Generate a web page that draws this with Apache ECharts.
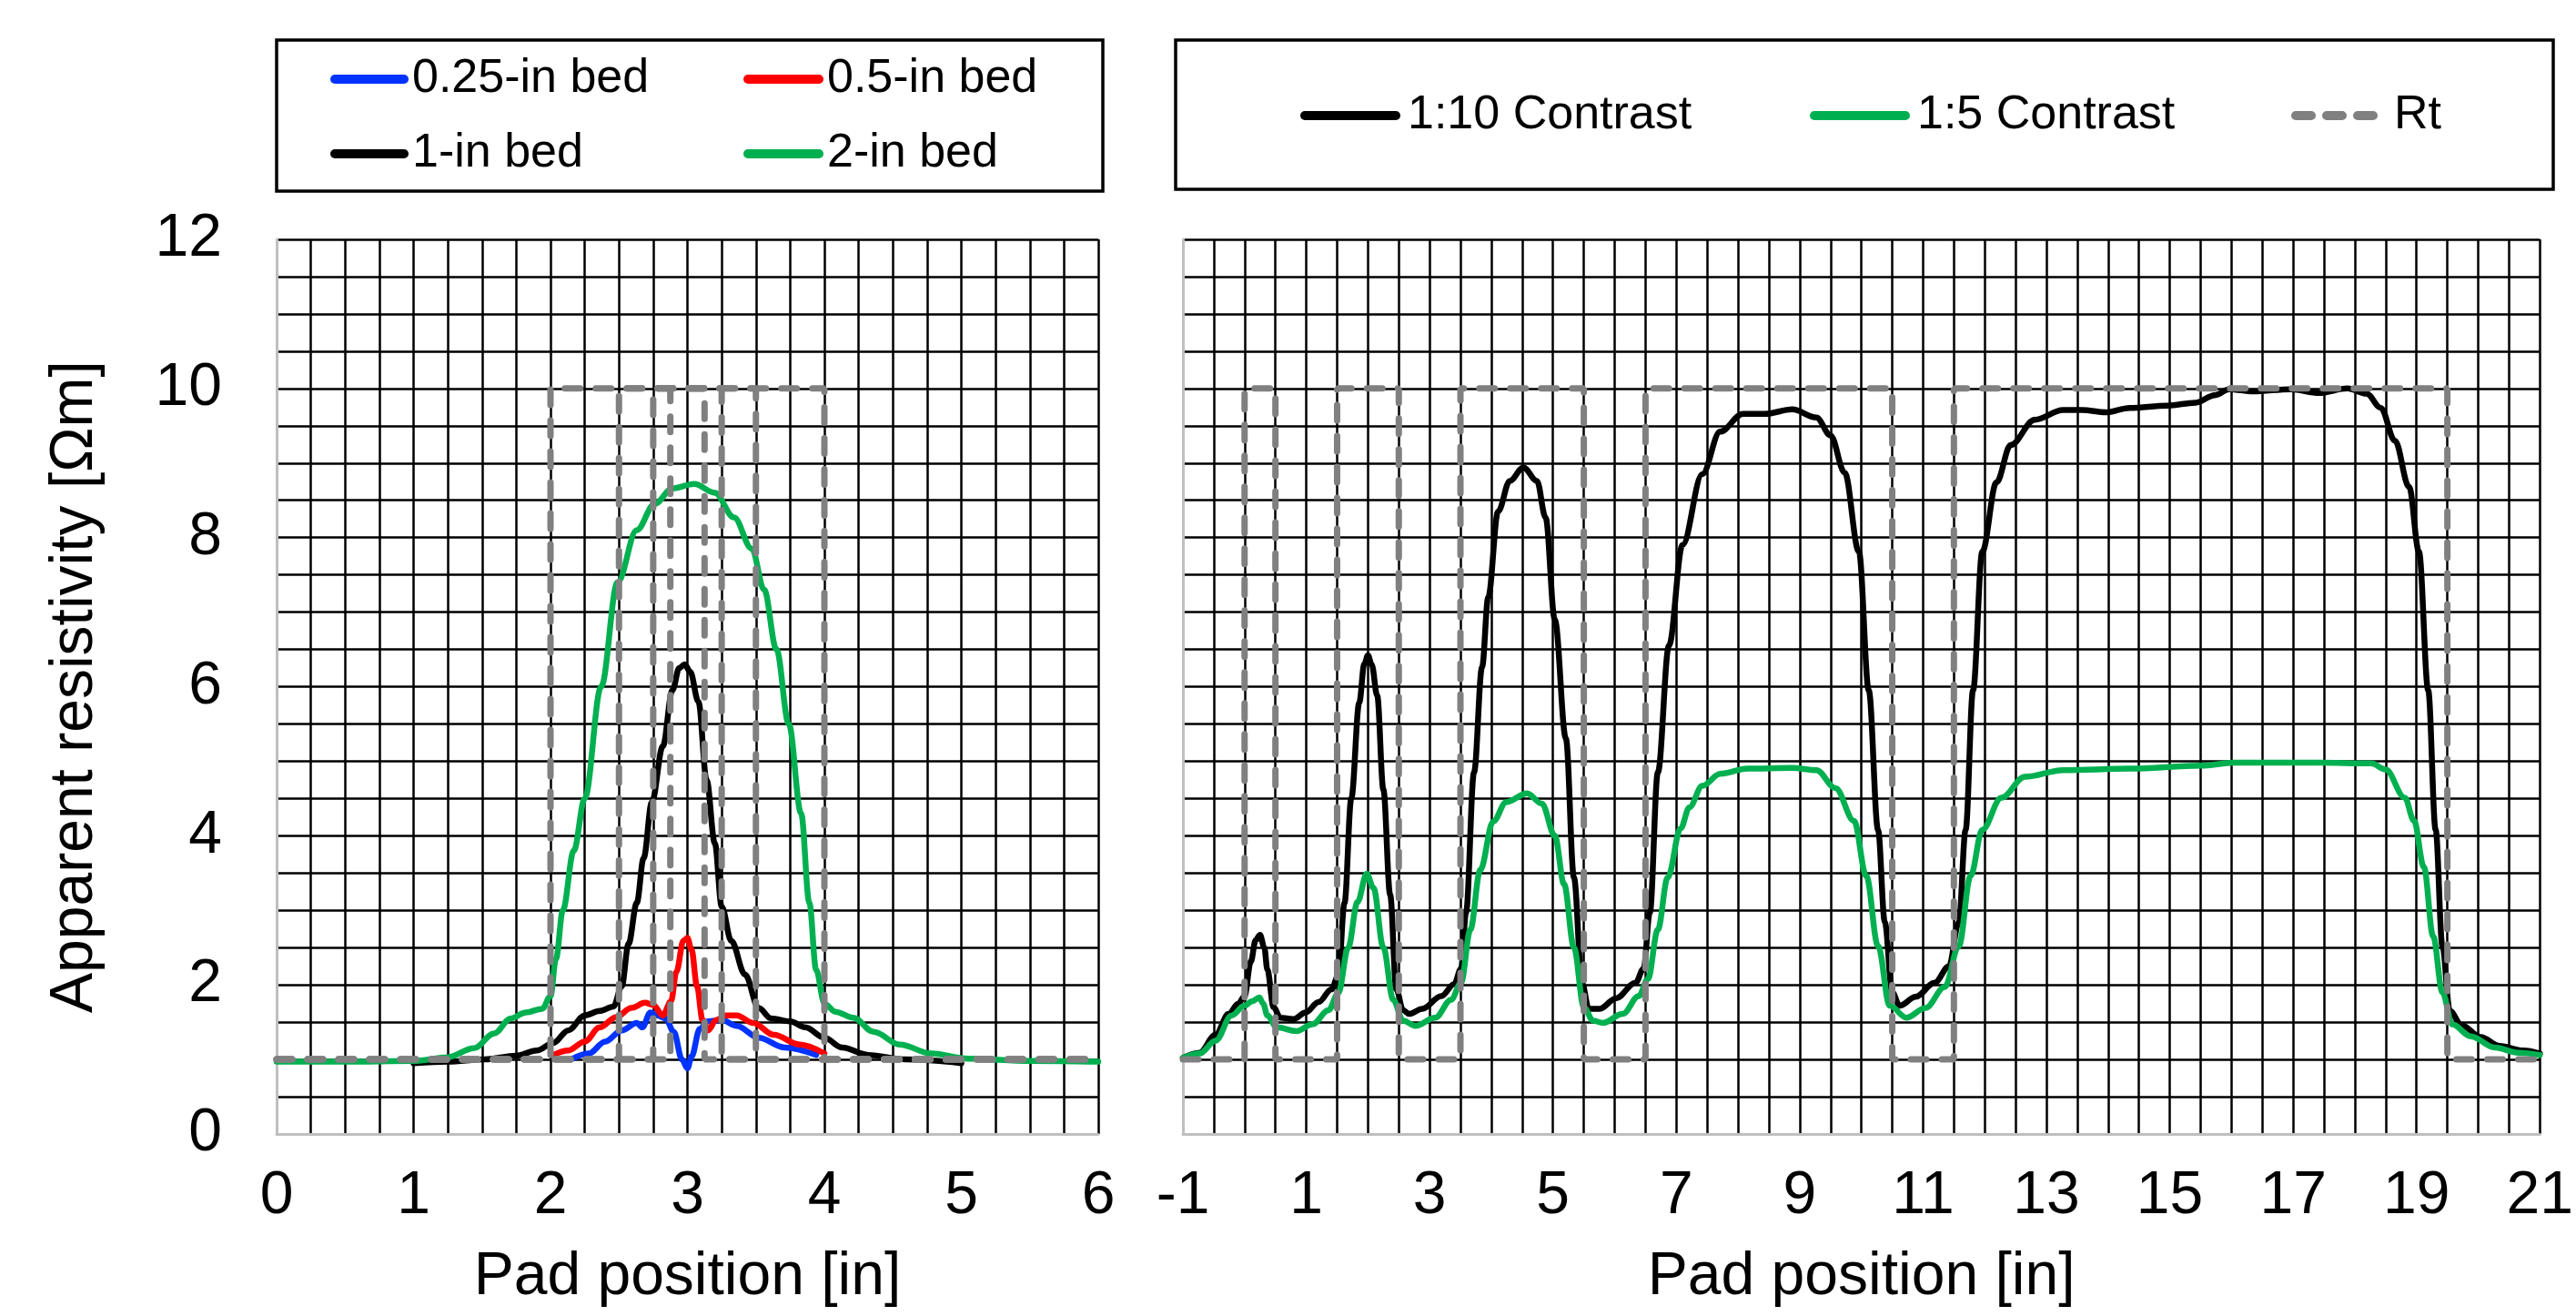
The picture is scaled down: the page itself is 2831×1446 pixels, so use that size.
<!DOCTYPE html>
<html>
<head>
<meta charset="utf-8">
<script src="https://cdn.jsdelivr.net/npm/echarts@6/dist/echarts.min.js"></script>
<style>
html,body{margin:0;padding:0;background:#fff;}
#chart{width:2831px;height:1446px;}
</style>
</head>
<body>
<div id="chart"></div>
<script>
// ---------- Left panel: bed-thickness curves ----------
var bed025X = [2.15,2.28,2.4,2.52,2.63,2.67,2.73,2.78,2.84,2.9,2.96,3.0,3.03,3.09,3.15,3.25,3.36,3.52,3.71,3.94];
var bed025Y = [1.0,1.08,1.24,1.39,1.49,1.43,1.63,1.59,1.55,1.37,1.0,0.88,1.04,1.41,1.51,1.53,1.45,1.29,1.16,1.06];

var bed05X = [2.02,2.13,2.25,2.36,2.48,2.59,2.69,2.75,2.82,2.88,2.92,2.97,3.0,3.03,3.07,3.11,3.15,3.21,3.28,3.36,3.48,3.63,3.82,4.0];
var bed05Y = [1.06,1.12,1.24,1.43,1.57,1.69,1.76,1.73,1.59,1.78,2.18,2.59,2.63,2.47,1.98,1.53,1.39,1.53,1.59,1.59,1.49,1.33,1.2,1.08];

var bed1X = [1.0,1.25,1.52,1.75,1.9,2.02,2.13,2.25,2.36,2.46,2.52,2.57,2.63,2.68,2.74,2.82,2.89,2.94,2.98,3.02,3.08,3.14,3.2,3.25,3.32,3.42,3.52,3.61,3.75,3.86,4.0,4.13,4.32,4.59,5.0];
var bed1Y = [0.95,0.97,1.0,1.05,1.12,1.22,1.39,1.59,1.65,1.71,1.98,2.55,3.1,3.7,4.45,5.2,5.95,6.25,6.3,6.2,5.8,4.75,3.9,3.05,2.59,2.14,1.69,1.55,1.51,1.43,1.29,1.16,1.06,1.0,0.95];

var bed2X = [0,0.5,1.0,1.25,1.44,1.59,1.71,1.82,1.94,2.0,2.04,2.09,2.17,2.25,2.37,2.49,2.63,2.76,2.89,3.05,3.2,3.34,3.47,3.56,3.65,3.74,3.83,3.89,3.94,4.0,4.08,4.21,4.36,4.55,4.78,5.05,5.5,6.0];
var bed2Y = [0.97,0.97,0.98,1.03,1.15,1.35,1.55,1.63,1.68,1.85,2.35,3.0,3.8,4.5,6.0,7.4,8.1,8.45,8.66,8.72,8.6,8.27,7.85,7.3,6.5,5.5,4.3,3.1,2.2,1.75,1.64,1.56,1.37,1.2,1.08,1.01,0.98,0.97];

// True resistivity (Rt) of each single bed in the left panel
var rtBed025X = [0,2.875,2.875,3.125,3.125,6];
var rtBed05X  = [0,2.75,2.75,3.25,3.25,6];
var rtBed1X   = [0,2.5,2.5,3.5,3.5,6];
var rtBed2X   = [0,2.0,2.0,4.0,4.0,6];
var rtBedY    = [1,1,10,10,1,1];

// ---------- Right panel: multi-bed contrast curves ----------
var c10X = [-1,-0.73,-0.47,-0.26,-0.1,0,0.1,0.18,0.25,0.32,0.37,0.47,0.58,0.79,0.99,1.2,1.41,1.52,1.62,1.73,1.86,1.94,2.0,2.06,2.15,2.25,2.36,2.46,2.57,2.67,2.88,3.19,3.4,3.51,3.59,3.72,3.85,3.95,4.11,4.3,4.52,4.74,4.88,5.03,5.21,5.34,5.47,5.58,5.76,6.02,6.34,6.47,6.57,6.7,6.88,7.1,7.42,7.71,8.08,8.44,8.88,9.27,9.5,9.73,9.96,10.12,10.27,10.38,10.5,10.62,10.88,11.19,11.42,11.58,11.69,11.81,11.96,12.19,12.42,12.81,13.27,13.58,13.96,14.35,14.96,15.42,15.73,15.96,16.35,16.96,17.42,17.88,18.19,18.42,18.65,18.88,19.04,19.19,19.31,19.42,19.54,19.73,20.04,20.35,20.73,21];
var c10Y = [1.02,1.09,1.33,1.61,1.75,1.85,2.31,2.6,2.67,2.5,2.2,1.7,1.56,1.54,1.63,1.77,1.94,2.13,3.1,4.5,5.79,6.3,6.42,6.3,5.88,4.62,3.21,1.94,1.66,1.61,1.68,1.85,2.01,2.22,2.97,4.85,6.26,7.2,8.35,8.76,8.94,8.76,8.27,6.9,5.3,3.44,2.03,1.68,1.68,1.82,2.03,2.22,2.97,4.85,6.55,7.9,8.85,9.42,9.66,9.66,9.72,9.61,9.37,8.87,7.81,5.95,4.08,2.84,1.9,1.72,1.84,2.03,2.25,2.84,4.08,5.95,7.81,8.74,9.24,9.58,9.71,9.71,9.68,9.74,9.77,9.81,9.91,9.99,9.96,9.99,9.94,10.0,9.93,9.74,9.3,8.68,7.81,5.95,4.08,2.52,1.65,1.46,1.3,1.18,1.12,1.08];

var c5X = [-1,-0.73,-0.47,-0.21,0,0.12,0.24,0.3,0.37,0.52,0.84,1.1,1.36,1.52,1.68,1.83,1.98,2.09,2.25,2.41,2.57,2.77,3.09,3.35,3.51,3.66,3.82,4.03,4.24,4.58,4.82,5.03,5.18,5.34,5.5,5.65,5.81,6.13,6.39,6.54,6.7,6.86,7.07,7.21,7.42,7.71,8.15,8.88,9.27,9.58,9.88,10.08,10.27,10.46,10.73,11.04,11.35,11.58,11.77,11.96,12.27,12.65,13.27,14.35,15.5,16.04,17.42,18.27,18.5,18.81,18.96,19.12,19.27,19.42,19.58,19.88,20.27,20.65,21];
var c5Y = [1.02,1.08,1.25,1.59,1.72,1.78,1.83,1.75,1.59,1.43,1.38,1.47,1.66,1.89,2.5,3.11,3.49,3.3,2.5,1.8,1.52,1.45,1.56,1.8,2.03,2.74,3.54,4.19,4.45,4.57,4.43,4.0,3.35,2.5,1.7,1.52,1.49,1.61,1.85,2.08,2.74,3.44,4.1,4.38,4.67,4.83,4.9,4.91,4.88,4.64,4.2,3.46,2.52,1.72,1.56,1.69,1.97,2.52,3.46,4.08,4.51,4.79,4.88,4.9,4.94,4.98,4.98,4.97,4.89,4.51,4.2,3.58,2.65,1.9,1.47,1.31,1.16,1.09,1.06];

var rtRightX = [-1,0,0,0.5,0.5,1.5,1.5,2.5,2.5,3.5,3.5,5.5,5.5,6.5,6.5,10.5,10.5,11.5,11.5,19.5,19.5,21];
var rtRightY = [1,1,10,10,1,1,10,10,1,1,10,10,1,1,10,10,1,1,10,10,1,1];

// ---------- Axis ticks / labels ----------
var yTicksLabelled = [0,2,4,6,8,10,12];
var xLeftLabels = [0,1,2,3,4,5,6];
var xRightLabels = [-1,1,3,5,7,9,11,13,15,17,19,21];

var leftNames = ['0.25-in bed','0.5-in bed','1-in bed','2-in bed'];
var rightNames = ['1:10 Contrast','1:5 Contrast','Rt'];

function zip(xs, ys){ return xs.map(function(x,i){ return [x, ys[i]]; }); }

var FONT = 'Liberation Sans, Arial, sans-serif';
var GRID_LINE = {show:true, lineStyle:{color:'#000', width:2.5}};
var AXIS_LINE = {show:true, onZero:false, lineStyle:{color:'#bfbfbf', width:3}};

function curve(name, xs, ys, color, xi){
  return {name:name, type:'line', xAxisIndex:xi, yAxisIndex:xi, data:zip(xs,ys),
    symbol:'none', smooth:0.35, smoothMonotone:'x', clip:true,
    lineStyle:{color:color, width:6.5, cap:'round', join:'round'}, itemStyle:{color:color}, z:3};
}
function rt(name, xs, ys, xi){
  return {name:name, type:'line', xAxisIndex:xi, yAxisIndex:xi, data:zip(xs,ys),
    symbol:'none', clip:false,
    lineStyle:{color:'#808080', width:7, type:[17,17], cap:'round'}, itemStyle:{color:'#808080'}, z:4};
}
function legendItem(name, left, top, w, padLeft){
  return {data:[name], left:left, top:top, orient:'horizontal', padding:0, itemGap:0,
    itemWidth:w, itemHeight:14, selectedMode:false,
    lineStyle:{width:10},
    itemStyle:{opacity:0},
    textStyle:{fontFamily:FONT, fontSize:52, color:'#000', lineHeight:60, padding:[0,0,0,padLeft]}};
}

var option = {
  backgroundColor:'#fff',
  animation:false,
  textStyle:{fontFamily:FONT},
  graphic:[
    {type:'rect', shape:{x:304, y:44, width:908, height:166}, style:{fill:'none', stroke:'#000', lineWidth:3.5}, silent:true},
    {type:'rect', shape:{x:1292, y:44, width:1514, height:164}, style:{fill:'none', stroke:'#000', lineWidth:3.5}, silent:true}
  ],
  legend:[
    legendItem(leftNames[0], 363, 57, 76, 4),
    legendItem(leftNames[1], 817, 57, 78, 4),
    legendItem(leftNames[2], 363, 139, 76, 4),
    legendItem(leftNames[3], 817, 139, 78, 4),
    legendItem(rightNames[0], 1429, 97, 100, 8),
    legendItem(rightNames[1], 1989, 97, 100, 8),
    legendItem(rightNames[2], 2518, 97, 94, 9)
  ],
  grid:[
    {left:304, top:263, width:903, height:983},
    {left:1300, top:263, width:1498, height:983}
  ],
  xAxis:[
    {type:'value', gridIndex:0, min:0, max:6, interval:0.25,
      name:'Pad position [in]', nameLocation:'middle', nameGap:125,
      nameTextStyle:{fontFamily:FONT, fontSize:66, color:'#000'},
      axisLine:AXIS_LINE, axisTick:{show:false}, splitLine:GRID_LINE,
      axisLabel:{fontFamily:FONT, fontSize:66, color:'#000', margin:36,
        formatter:function(v){ return xLeftLabels.indexOf(v) >= 0 ? String(v) : ''; }}},
    {type:'value', gridIndex:1, min:-1, max:21, interval:0.5,
      name:'Pad position [in]', nameLocation:'middle', nameGap:125,
      nameTextStyle:{fontFamily:FONT, fontSize:66, color:'#000'},
      axisLine:AXIS_LINE, axisTick:{show:false}, splitLine:GRID_LINE,
      axisLabel:{fontFamily:FONT, fontSize:66, color:'#000', margin:36,
        formatter:function(v){ return xRightLabels.indexOf(v) >= 0 ? String(v) : ''; }}}
  ],
  yAxis:[
    {type:'value', gridIndex:0, min:0, max:12, interval:0.5,
      name:'Apparent resistivity [Ωm]', nameLocation:'middle', nameGap:188,
      nameTextStyle:{fontFamily:FONT, fontSize:66, color:'#000'},
      axisLine:AXIS_LINE, axisTick:{show:false}, splitLine:GRID_LINE,
      axisLabel:{fontFamily:FONT, fontSize:66, color:'#000', margin:60,
        formatter:function(v){ return yTicksLabelled.indexOf(v) >= 0 ? String(v) : ''; }}},
    {type:'value', gridIndex:1, min:0, max:12, interval:0.5,
      axisLine:AXIS_LINE, axisTick:{show:false}, splitLine:GRID_LINE,
      axisLabel:{show:false}}
  ],
  series:[
    curve(leftNames[0], bed025X, bed025Y, '#0033ff', 0),
    curve(leftNames[1], bed05X, bed05Y, '#ff0000', 0),
    curve(leftNames[2], bed1X, bed1Y, '#000000', 0),
    curve(leftNames[3], bed2X, bed2Y, '#00b050', 0),
    rt('Rt 0.25-in', rtBed025X, rtBedY, 0),
    rt('Rt 0.5-in', rtBed05X, rtBedY, 0),
    rt('Rt 1-in', rtBed1X, rtBedY, 0),
    rt('Rt 2-in', rtBed2X, rtBedY, 0),
    curve(rightNames[0], c10X, c10Y, '#000000', 1),
    curve(rightNames[1], c5X, c5Y, '#00b050', 1),
    rt(rightNames[2], rtRightX, rtRightY, 1)
  ]
};

var chart = echarts.init(document.getElementById('chart'), null, {renderer:'canvas'});
chart.setOption(option);
</script>
</body>
</html>
